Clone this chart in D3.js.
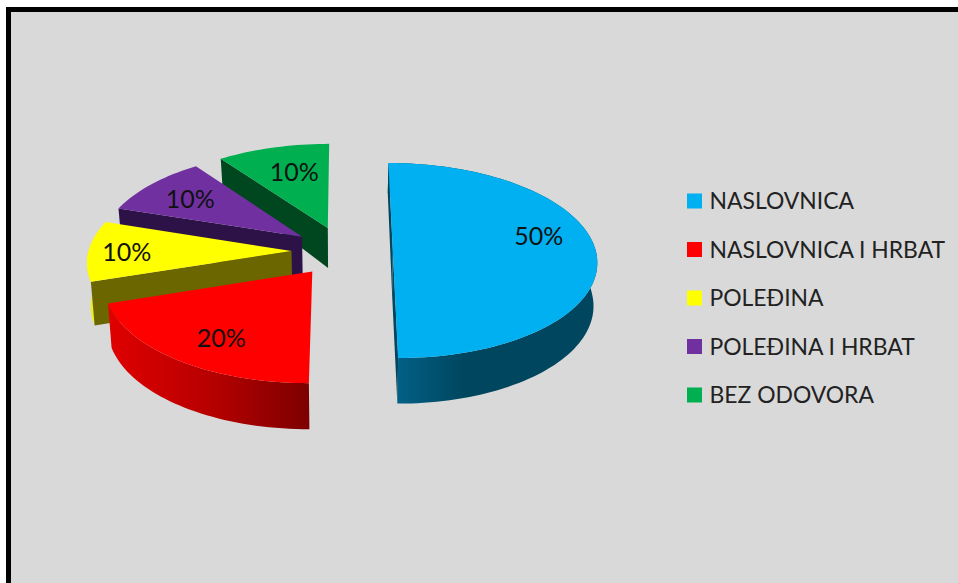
<!DOCTYPE html>
<html lang="hr">
<head>
    <meta charset="utf-8">
    <title>Pie</title>
    <script src="https://d3js.org/d3.v7.min.js"></script>
    <style>
        html, body { margin: 0; padding: 0; background: #fff; overflow: hidden; }
        svg { display: block; }
        text { font-family: Lato, "Open Sans", sans-serif; }
    </style>
</head>
<body>
    <div id="chart"></div>
    <script>
        // data
        const categories = ["NASLOVNICA", "NASLOVNICA I HRBAT", "POLEĐINA", "POLEĐINA I HRBAT", "BEZ ODOVORA"];
        const shares = [50, 20, 10, 10, 10];

        const width = 958;
        const height = 583;

        // styles per slice
        const topColors = ["#00b0f0", "#ff0000", "#ffff00", "#7030a0", "#00b050"];
        const edgeColors = ["#00465f", "#800000", "#6b6600", "#2d1248", "#00471f"];
        const rimFills = ["url(#rimBlue)", "url(#rimRed)", "#f2f200", "#2d1248", "#00471f"];
        const explode = [0.243, 0.256, 0.256, 0.256, 0.256];
        const labelRadius = [0.75, 0.74, 0.81, 0.72, 0.67];
        const labelTurn = [-12, -3, -1, -1, 2];

        // camera: ground plane units are pie radii, g goes towards the viewer
        const vanishX = 343.5, horizonY = 251, scaleX = 203, scaleY = 96.6, persp = 0.0975;
        const shrink = 0.985;

        function project(gx, g) {
            const s = 1 / (1 - g * persp);
            return [vanishX + scaleX * gx * s, horizonY + scaleY * g * s];
        }

        // same point on the underside of the slice
        function projectLow(gx, g) {
            const p = project(gx, g);
            const depth = g < 0 ? 43 * (1 + 0.3 * g) : 43 * (1 + 0.06 * g);
            return [vanishX + (p[0] - vanishX) * shrink, p[1] + depth];
        }

        const svg = d3.select("#chart").append("svg")
            .attr("width", width)
            .attr("height", height);

        const defs = svg.append("defs");
        function rimGradient(id, stops) {
            defs.append("linearGradient").attr("id", id)
                .selectAll("stop").data(stops).enter().append("stop")
                .attr("offset", d => d[0])
                .attr("stop-color", d => d[1]);
        }
        rimGradient("rimBlue", [[0, "#02648c"], [0.36, "#00465f"], [1, "#00465f"]]);
        rimGradient("rimRed", [[0, "#e00000"], [0.5, "#b80000"], [1, "#7d0000"]]);

        svg.append("rect")
            .attr("x", 8.5).attr("y", 9.5)
            .attr("width", width + 20).attr("height", height + 20)
            .attr("fill", "#d9d9d9")
            .attr("stroke", "#000")
            .attr("stroke-width", 5);

        const pie = d3.pie().sort(null).startAngle(0).endAngle(2 * Math.PI);
        const arcs = pie(shares);
        const line = d3.line();

        const color = d3.scaleOrdinal().domain(categories).range(topColors);

        function ground(r, angle, i) {
            const mid = (arcs[i].startAngle + arcs[i].endAngle) / 2;
            return [
                explode[i] * Math.sin(mid) + r * Math.sin(angle),
                -explode[i] * Math.cos(mid) - r * Math.cos(angle)
            ];
        }

        function rimAngles(a0, a1) {
            const n = Math.max(2, Math.ceil((a1 - a0) / 0.03));
            return d3.range(n + 1).map(k => a0 + (a1 - a0) * k / n);
        }

        // paint back to front
        const order = [4, 3, 2, 1, 0];
        order.forEach(i => {
            const a = arcs[i];
            const g = svg.append("g").attr("class", "slice");
            const rim = rimAngles(a.startAngle, a.endAngle).map(t => ground(1, t, i));
            const apex = ground(0, 0, i);

            // outer wall, front part of the rim only
            const front = rim.filter(p => p[1] >= apex[1] - 0.01 || i === 0);
            if (i <= 2) {
                const up = front.map(p => project(p[0], p[1]));
                const low = front.map(p => projectLow(p[0], p[1])).reverse();
                g.append("path")
                    .attr("d", line(up.concat(low)) + "Z")
                    .attr("fill", rimFills[i]);
            }

            // flat walls along the cut
            const cuts = [];
            if (i === 0) cuts.push(ground(1, a.startAngle, i), ground(1, a.endAngle, i));
            else if (i >= 2) cuts.push(ground(1, a.startAngle, i));
            cuts.forEach(p => {
                g.append("path")
                    .attr("d", line([
                        project(p[0], p[1]), project(apex[0], apex[1]),
                        projectLow(apex[0], apex[1]), projectLow(p[0], p[1])
                    ]) + "Z")
                    .attr("fill", edgeColors[i]);
            });

            // top face
            g.append("path")
                .attr("d", line([apex].concat(rim).map(p => project(p[0], p[1]))) + "Z")
                .attr("fill", color(categories[i]));
        });

        // percent labels on top of everything
        arcs.forEach((a, i) => {
            const mid = (a.startAngle + a.endAngle) / 2 + labelTurn[i] * Math.PI / 180;
            const p = ground(labelRadius[i], mid, i);
            const xy = project(p[0], p[1]);
            svg.append("text")
                .attr("x", xy[0]).attr("y", xy[1] - 1)
                .attr("text-anchor", "middle")
                .attr("dominant-baseline", "central")
                .attr("font-size", 25)
                .attr("fill", "#111")
                .text(shares[i] + "%");
        });

        // legend
        const rowY = d3.scalePoint().domain(categories).range([201, 395]);
        const legend = svg.append("g").attr("class", "legend")
            .selectAll("g").data(categories).enter().append("g")
            .attr("transform", d => "translate(687," + rowY(d) + ")");
        legend.append("rect")
            .attr("y", -7.5).attr("width", 15).attr("height", 15)
            .attr("fill", d => color(d));
        legend.append("text")
            .attr("x", 22.5)
            .attr("y", -1)
            .attr("dominant-baseline", "central")
            .attr("font-size", 22.9)
            .attr("fill", "#222")
            .text(d => d);
    </script>
</body>
</html>
